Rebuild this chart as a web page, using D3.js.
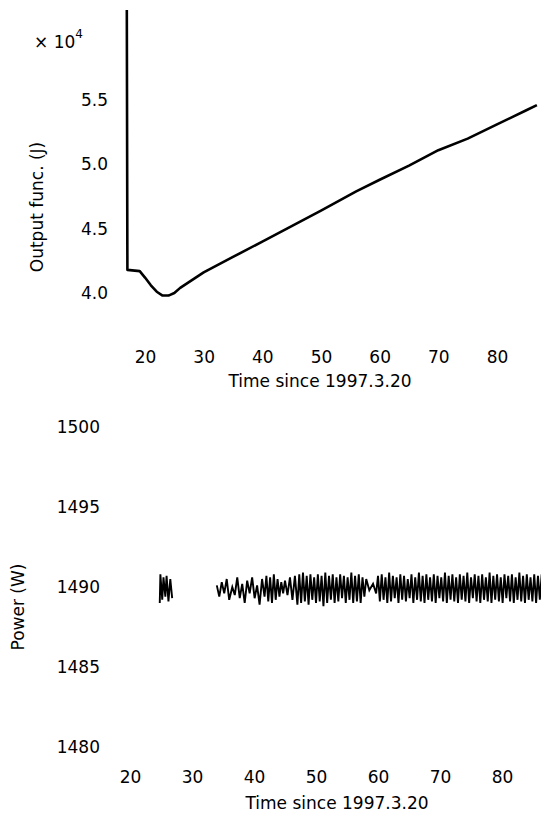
<!DOCTYPE html>
<html>
<head>
<meta charset="utf-8">
<script src="https://cdn.jsdelivr.net/npm/d3@7/dist/d3.min.js"></script>
<style>
  body { margin: 0; background: #fff; }
  svg text { font-family: "DejaVu Sans", sans-serif; font-size: 17px; fill: #000; }
</style>
</head>
<body>
<figure id="charts" style="margin:0"></figure>
<script>
// top panel: output function (x 1e4) vs time
const outTime = [16.9, 17.0, 19.1, 20, 21, 22, 23, 24, 25, 26, 28, 30, 35, 40, 45, 50, 56, 60, 65, 70, 75, 80, 85, 86.8];
const outValue = [62000, 41800, 41700, 41200, 40600, 40100, 39800, 39800, 40000, 40400, 41000, 41600, 42800, 44000, 45200, 46400, 47900, 48800, 49900, 51100, 52000, 53100, 54200, 54600];
const outXTicks = [20, 30, 40, 50, 60, 70, 80];
const outYTicks = [40000, 45000, 50000, 55000];

// bottom panel: power vs time (null = gap in record)
const powerSamples = [
  [24.8,1489.0],[24.9,1490.8],[25.2,1489.2],[25.4,1490.6],[25.7,1489.4],[25.9,1490.7],[26.2,1489.1],[26.5,1490.5],[26.8,1489.3],
  null,
  [34.0,1490.1],[34.4,1489.4],[34.8,1490.3],[35.2,1489.6],[35.6,1490.5],[36.0,1489.2],[36.5,1490.0],[36.9,1489.5],[37.3,1490.6],[37.7,1489.3],
  [38.1,1490.2],[38.5,1489.0],[38.9,1490.4],[39.3,1489.6],[39.7,1490.6],[40.1,1489.3],[40.5,1490.1],[40.9,1488.9],[41.3,1490.5],[41.7,1489.4],
  [42.0,1490.7],[42.3,1489.1],[42.6,1490.6],[42.9,1489.0],[43.2,1490.8],[43.5,1489.2],[43.8,1490.5],[44.1,1489.4],[44.4,1490.3],[44.7,1489.6],
  [45.0,1490.4],[45.4,1489.5],[45.8,1490.6],[46.2,1489.2],[46.6,1490.7],
  [47.0,1488.9],[47.3,1490.8],[47.6,1489.0],[47.9,1490.9],[48.2,1489.1],[48.5,1490.7],[48.8,1488.9],[49.1,1490.8],[49.4,1489.2],[49.7,1490.6],
  [50.0,1489.0],[50.3,1490.8],[50.6,1489.1],[50.9,1490.7],[51.2,1488.8],[51.5,1490.9],[51.8,1489.0],[52.1,1490.7],[52.4,1489.2],[52.7,1490.8],
  [53.0,1489.0],[53.3,1490.6],[53.6,1489.1],[53.9,1490.8],[54.2,1489.3],[54.5,1490.7],[54.8,1489.0],[55.1,1490.6],[55.4,1489.2],[55.7,1490.9],
  [56.0,1489.0],[56.3,1490.7],[56.6,1489.1],[56.9,1490.8],[57.2,1489.0],[57.5,1490.6],[57.8,1489.4],[58.1,1490.5],
  [58.6,1489.8],[59.2,1490.2],[59.7,1489.6],
  [60.0,1490.7],[60.3,1489.1],[60.6,1490.8],[60.9,1489.2],[61.2,1490.6],[61.5,1489.0],[61.8,1490.9],[62.1,1489.1],[62.4,1490.7],[62.7,1489.3],
  [63.0,1490.6],[63.3,1489.0],[63.6,1490.8],[63.9,1489.2],[64.2,1490.7],[64.5,1489.1],[64.8,1490.5],[65.1,1489.3],[65.4,1490.8],[65.7,1489.0],
  [66.0,1490.6],[66.3,1489.2],[66.6,1490.9],[66.9,1489.1],[67.2,1490.7],[67.5,1489.0],[67.8,1490.8],[68.1,1489.2],[68.4,1490.6],[68.7,1489.1],
  [69.0,1490.8],[69.3,1489.0],[69.6,1490.7],[69.9,1489.3],[70.2,1490.6],[70.5,1489.1],[70.8,1490.9],[71.1,1489.0],[71.4,1490.7],[71.7,1489.2],
  [72.0,1490.8],[72.3,1489.1],[72.6,1490.6],[72.9,1489.0],[73.2,1490.8],[73.5,1489.2],[73.8,1490.7],[74.1,1489.1],[74.4,1490.9],[74.7,1489.0],
  [75.0,1490.6],[75.3,1489.3],[75.6,1490.8],[75.9,1489.1],[76.2,1490.7],[76.5,1489.0],[76.8,1490.8],[77.1,1489.2],[77.4,1490.6],[77.7,1489.1],
  [78.0,1490.9],[78.3,1489.0],[78.6,1490.7],[78.9,1489.2],[79.2,1490.8],[79.5,1489.1],[79.8,1490.6],[80.1,1489.0],[80.4,1490.8],[80.7,1489.3],
  [81.0,1490.7],[81.3,1489.1],[81.6,1490.8],[81.9,1489.0],[82.2,1490.6],[82.5,1489.2],[82.8,1490.9],[83.1,1489.1],[83.4,1490.7],[83.7,1489.0],
  [84.0,1490.8],[84.3,1489.2],[84.6,1490.6],[84.9,1489.1],[85.2,1490.8],[85.5,1489.0],[85.8,1490.7],[86.1,1489.2],[86.4,1490.8]
];
const powerXTicks = [20, 30, 40, 50, 60, 70, 80];
const powerYTicks = [1480, 1485, 1490, 1495, 1500];

const xLabel = "Time since 1997.3.20";

const svg = d3.select("#charts").append("svg")
  .attr("width", 541)
  .attr("height", 814);

// ---- top panel ----
const x1 = d3.scaleLinear().domain([20, 80]).range([145, 497]);
const y1 = d3.scaleLinear().domain([40000, 55000]).range([293, 100]);

svg.append("g")
  .attr("transform", "translate(0,351)")
  .call(d3.axisBottom(x1).tickValues(outXTicks).tickSize(0).tickPadding(0))
  .call(g => g.select(".domain").remove())
  .selectAll("text").attr("font-family", null).attr("font-size", null);

svg.append("g")
  .attr("transform", "translate(108,0)")
  .call(d3.axisLeft(y1).tickValues(outYTicks).tickSize(0).tickPadding(0)
    .tickFormat(d => d3.format(".1f")(d / 1e4)))
  .call(g => g.select(".domain").remove())
  .selectAll("text").attr("font-family", null).attr("font-size", null);

// exponent label of the top y axis
const expo = svg.append("text").attr("x", 34).attr("y", 48);
expo.append("tspan").text("× 10");
expo.append("tspan").attr("dy", -10).style("font-size", "12px").text("4");

svg.append("text")
  .attr("x", 320).attr("y", 387)
  .attr("text-anchor", "middle")
  .text(xLabel);

svg.append("text")
  .attr("transform", "translate(43,207) rotate(-90)")
  .attr("text-anchor", "middle")
  .text("Output func. (J)");

svg.append("path")
  .datum(outTime.map((t, i) => [t, outValue[i]]))
  .attr("fill", "none")
  .attr("stroke", "#000")
  .attr("stroke-width", 2.6)
  .attr("stroke-linejoin", "round")
  .attr("d", d3.line().x(d => x1(d[0])).y(d => y1(d[1])));

// ---- bottom panel ----
const x2 = d3.scaleLinear().domain([20, 80]).range([130, 502]);
const y2 = d3.scaleLinear().domain([1480, 1490]).range([747, 587]);

svg.append("g")
  .attr("transform", "translate(0,771)")
  .call(d3.axisBottom(x2).tickValues(powerXTicks).tickSize(0).tickPadding(0))
  .call(g => g.select(".domain").remove())
  .selectAll("text").attr("font-family", null).attr("font-size", null);

svg.append("g")
  .attr("transform", "translate(100,0)")
  .call(d3.axisLeft(y2).tickValues(powerYTicks).tickSize(0).tickPadding(0).tickFormat(d3.format("d")))
  .call(g => g.select(".domain").remove())
  .selectAll("text").attr("font-family", null).attr("font-size", null);

svg.append("text")
  .attr("x", 337).attr("y", 809)
  .attr("text-anchor", "middle")
  .text(xLabel);

svg.append("text")
  .attr("transform", "translate(24,607) rotate(-90)")
  .attr("text-anchor", "middle")
  .text("Power (W)");

svg.append("path")
  .datum(powerSamples)
  .attr("fill", "none")
  .attr("stroke", "#000")
  .attr("stroke-width", 1.9)
  .attr("d", d3.line().defined(d => d != null).x(d => x2(d[0])).y(d => y2(d[1])));
</script>
</body>
</html>
